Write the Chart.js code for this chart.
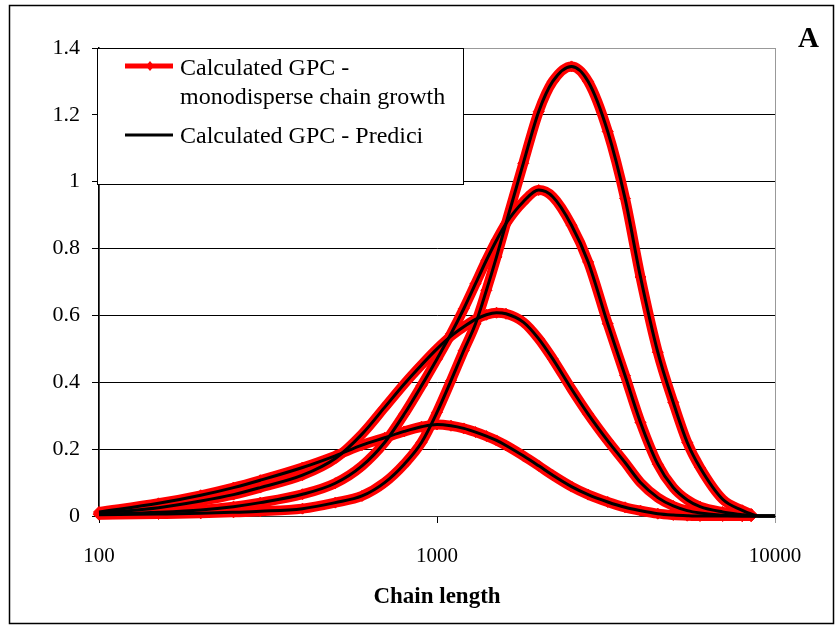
<!DOCTYPE html>
<html>
<head>
<meta charset="utf-8">
<title>Calculated GPC</title>
<script src="https://cdn.jsdelivr.net/npm/chart.js@4.4.0/dist/chart.umd.min.js"></script>
<style>
  html, body { margin: 0; padding: 0; background: #fff; }
  #wrap { width: 837px; height: 627px; }
</style>
</head>
<body>
<div id="wrap"><canvas id="gpc-chart" width="837" height="627"></canvas></div>
<script>
// chain lengths where both models were evaluated
var chainLength = [100, 150, 200, 250, 300, 400, 500, 600, 700, 800, 900, 1000, 1100, 1200, 1300, 1400, 1500,
                   1600, 1800, 2000, 2200, 2500, 2800, 3200, 3600, 4000, 4500, 5000, 5500, 6000, 7000, 8000, 8500];
// the Predici output runs on to 10000
var prediciTailX = [9000, 10000];
var prediciTailY = [0, 0];

// GPC traces, one per sampling time (same values for both models)
var gpc1 = [0.012, 0.038, 0.062, 0.085, 0.107, 0.145, 0.180, 0.212, 0.234, 0.253, 0.267, 0.274, 0.270, 0.262, 0.251, 0.239, 0.226,
            0.211, 0.180, 0.150, 0.122, 0.088, 0.064, 0.042, 0.026, 0.016, 0.007, 0.003, 0.001, 0, 0, 0, 0];
var gpc2 = [0.008, 0.025, 0.045, 0.064, 0.085, 0.122, 0.172, 0.245, 0.325, 0.395, 0.452, 0.500, 0.538, 0.566, 0.588, 0.602, 0.608,
            0.605, 0.580, 0.530, 0.470, 0.380, 0.305, 0.225, 0.160, 0.100, 0.055, 0.030, 0.016, 0.009, 0.002, 0, 0];
var gpc3 = [0.005, 0.011, 0.018, 0.028, 0.040, 0.065, 0.098, 0.150, 0.220, 0.305, 0.390, 0.470, 0.545, 0.620, 0.695, 0.765, 0.825,
            0.875, 0.940, 0.975, 0.955, 0.870, 0.760, 0.575, 0.420, 0.280, 0.155, 0.085, 0.048, 0.028, 0.012, 0.004, 0.001];
var gpc4 = [0.004, 0.006, 0.008, 0.011, 0.014, 0.022, 0.040, 0.060, 0.100, 0.155, 0.220, 0.310, 0.405, 0.495, 0.575, 0.675, 0.775,
            0.875, 1.055, 1.210, 1.300, 1.345, 1.300, 1.150, 0.950, 0.715, 0.490, 0.340, 0.220, 0.145, 0.050, 0.017, 0.006];

var xTicks = [100, 1000, 10000];
var yTicks = [0, 0.2, 0.4, 0.6, 0.8, 1, 1.2, 1.4];

var monoLabel = ['Calculated GPC -', 'monodisperse chain growth'];
var prediciLabel = ['Calculated GPC - Predici'];
var panelLabel = 'A';

var serif = '"Liberation Serif", "Times New Roman", serif';
Chart.defaults.font.family = serif;
Chart.defaults.color = '#000';

function toPoints(xs, ys) {
  return xs.map(function (x, i) { return { x: x, y: ys[i] }; });
}

// red thick traces with diamonds underneath, thin black Predici line on top
var datasets = [];
[gpc1, gpc2, gpc3, gpc4].forEach(function (vals) {
  datasets.push({
    label: monoLabel.join(' '),
    data: toPoints(chainLength, vals),
    borderColor: '#ff0000',
    backgroundColor: '#ff0000',
    borderWidth: 10,
    pointStyle: 'rectRot',
    pointRadius: 5.5,
    pointBorderColor: '#ff0000',
    pointBorderWidth: 1,
    cubicInterpolationMode: 'monotone',
    clip: false,
    order: 2
  });
  datasets.push({
    label: prediciLabel[0],
    data: toPoints(chainLength.concat(prediciTailX), vals.concat(prediciTailY)),
    borderColor: '#000',
    borderWidth: 3,
    pointRadius: 0,
    cubicInterpolationMode: 'monotone',
    clip: false,
    order: 1
  });
});

// white page, outer frame and grey plot-area border
var framePlugin = {
  id: 'frame',
  beforeDraw: function (chart) {
    var ctx = chart.ctx, a = chart.chartArea;
    ctx.save();
    ctx.fillStyle = '#fff';
    ctx.fillRect(0, 0, chart.width, chart.height);
    ctx.strokeStyle = '#000';
    ctx.lineWidth = 1.5;
    ctx.strokeRect(9.5, 5.5, 824, 618);
    ctx.strokeStyle = '#999';
    ctx.lineWidth = 1;
    ctx.strokeRect(a.left + 0.5, a.top + 0.5, a.right - a.left, a.bottom - a.top);
    ctx.restore();
  }
};

// boxed legend in the top-left corner plus the panel letter
var legendPlugin = {
  id: 'boxLegend',
  afterDraw: function (chart) {
    var ctx = chart.ctx;
    ctx.save();
    ctx.fillStyle = '#fff';
    ctx.fillRect(97, 48, 366, 136);
    ctx.strokeStyle = '#000';
    ctx.lineWidth = 1;
    ctx.strokeRect(97.5, 48.5, 366, 136);

    // red sample with diamond
    ctx.strokeStyle = '#ff0000';
    ctx.lineWidth = 5;
    ctx.beginPath();
    ctx.moveTo(125, 66);
    ctx.lineTo(173, 66);
    ctx.stroke();
    ctx.fillStyle = '#ff0000';
    ctx.beginPath();
    ctx.moveTo(150, 61);
    ctx.lineTo(154, 66);
    ctx.lineTo(150, 71);
    ctx.lineTo(146, 66);
    ctx.closePath();
    ctx.fill();

    // black sample
    ctx.strokeStyle = '#000';
    ctx.lineWidth = 3;
    ctx.beginPath();
    ctx.moveTo(125, 135);
    ctx.lineTo(173, 135);
    ctx.stroke();

    ctx.fillStyle = '#000';
    ctx.font = '24px ' + serif;
    ctx.textAlign = 'left';
    ctx.textBaseline = 'alphabetic';
    ctx.fillText(monoLabel[0], 180, 75);
    ctx.fillText(monoLabel[1], 180, 104);
    ctx.fillText(prediciLabel[0], 180, 143);

    ctx.font = 'bold 29px ' + serif;
    ctx.textAlign = 'right';
    ctx.fillText(panelLabel, 819, 47);
    ctx.restore();
  }
};

var ctx = document.getElementById('gpc-chart');
var gpcChart = new Chart(ctx, {
  type: 'line',
  data: { datasets: datasets },
  options: {
    responsive: false,
    animation: false,
    devicePixelRatio: 1,
    layout: { padding: { left: 0, right: 62, top: 48, bottom: 0 } },
    plugins: {
      legend: { display: false },
      tooltip: { enabled: false }
    },
    scales: {
      x: {
        type: 'logarithmic',
        min: 100,
        max: 10000,
        afterBuildTicks: function (scale) {
          scale.ticks = xTicks.map(function (v) { return { value: v }; });
        },
        afterFit: function (scale) { scale.height = 111; },
        ticks: {
          color: '#000',
          font: { size: 21 },
          padding: 21,
          maxRotation: 0,
          autoSkip: false,
          callback: function (v) { return String(v); }
        },
        grid: {
          drawOnChartArea: false,
          tickLength: 7,
          color: function (c) { return c.tick && c.tick.value === 10000 ? '#999' : '#000'; }
        },
        border: { color: '#333', width: 1 },
        title: {
          display: true,
          text: 'Chain length',
          color: '#000',
          font: { size: 23, weight: 'bold' },
          padding: { top: 0, bottom: 16 }
        }
      },
      y: {
        min: 0,
        max: 1.4,
        afterBuildTicks: function (scale) {
          scale.ticks = yTicks.map(function (v) { return { value: v }; });
        },
        afterFit: function (scale) { scale.width = 99; },
        ticks: {
          color: '#000',
          font: { size: 22 },
          padding: 12,
          callback: function (v) { return String(v); }
        },
        grid: {
          color: function (c) { return c.tick && c.tick.value === 1.4 ? '#999' : '#000'; },
          tickColor: '#000',
          tickLength: 7,
          lineWidth: 1
        },
        border: { color: '#000', width: 1.5 }
      }
    }
  },
  plugins: [framePlugin, legendPlugin]
});
</script>
</body>
</html>
